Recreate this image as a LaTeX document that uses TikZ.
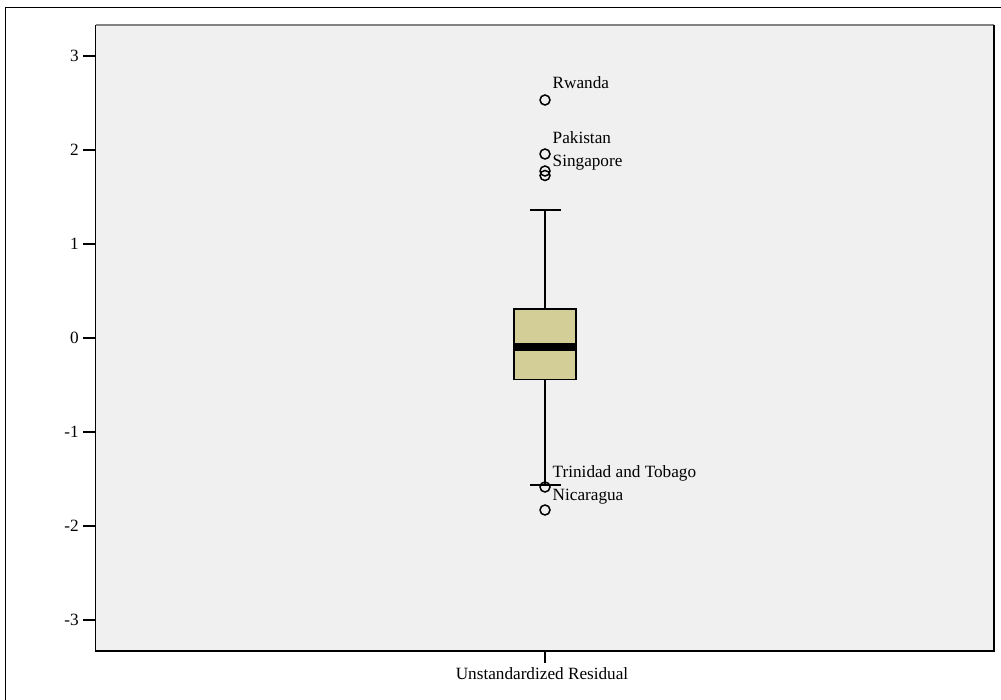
\documentclass[tikz,border=0pt]{standalone}
\usepackage{fontspec}
\setmainfont{Liberation Serif}
\definecolor{plotbg}{RGB}{240,240,240}
\definecolor{boxfill}{RGB}{211,206,152}
\definecolor{topgrey}{RGB}{130,130,130}
\tikzset{
  lbl/.style={font=\fontsize{17.2}{20}\selectfont, inner sep=0pt},
  outlier/.style={circle, draw=black, line width=1.5pt, minimum size=10pt, inner sep=0pt},
  whisk/.style={line width=2pt},
  tickline/.style={line width=1.6pt}
}
\begin{document}
\begin{tikzpicture}[x=1pt,y=-1pt]
\useasboundingbox (0,0) rectangle (1001,700);
% outer frame (left and top visible)
\draw[line width=1.3pt] (5.5,700) -- (5.5,7.5) -- (1001,7.5);
% plot area
\fill[plotbg] (95.5,25) rectangle (994,651);
\draw[topgrey, line width=1.5pt] (95.5,25) -- (994,25);
\draw[line width=1.3pt] (95.5,25) -- (95.5,651) -- (994,651) -- (994,25);
% y ticks
\foreach \v/\yy in {3/56,2/150,1/244,0/338,-1/432,-2/526,-3/620}{
  \draw[tickline] (83,\yy) -- (95.5,\yy);
  \node[lbl, anchor=east] (t\yy) at (79,\yy) {\v};
}
% x tick
\draw[tickline] (545,651) -- (545,663);
\node[lbl, anchor=base] (xlab) at (542,679.5) {Unstandardized Residual};
% whiskers
\coordinate (wtop) at (545,210);
\coordinate (wbot) at (545,484.5);
\coordinate (boxtop) at (545,309);
\coordinate (boxbot) at (545,379.5);
\draw[whisk] (wtop) -- (boxtop);
\draw[whisk] (boxbot) -- (wbot);
\draw[whisk] (530,210) -- (561,210);
\draw[whisk] (530,484.5) -- (561,484.5);
% box
\node[draw=black, fill=boxfill, line width=1.5pt, minimum width=62pt, minimum height=70.5pt, inner sep=0pt] (box) at (545,344.25) {};
\fill[black] (514,343.3) rectangle (576,351);
% outliers
\node[outlier] (rw) at (545,100) {};
\node[outlier] (pk) at (545,154) {};
\node[outlier] (sg1) at (545,171) {};
\node[outlier] (sg2) at (545,175.5) {};
\node[outlier] (tt) at (545,487) {};
\node[outlier] (ni) at (545,510) {};
% labels
\node[lbl, anchor=base west] (lrw) at (552.5,89) {Rwanda};
\node[lbl, anchor=base west] (lpk) at (552.5,144) {Pakistan};
\node[lbl, anchor=base west] (lsg) at (552.5,167) {Singapore};
\node[lbl, anchor=base west] (ltt) at (552.5,477.7) {Trinidad and Tobago};
\node[lbl, anchor=base west] (lni) at (552.5,500.7) {Nicaragua};
\end{tikzpicture}
\end{document}
